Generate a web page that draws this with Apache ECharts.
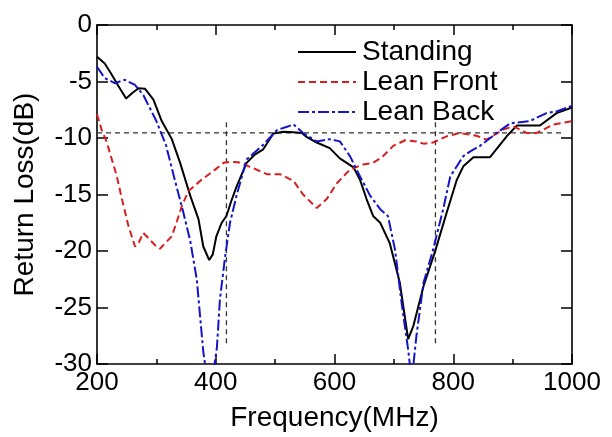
<!DOCTYPE html>
<html>
<head>
<meta charset="utf-8">
<script src="https://cdn.jsdelivr.net/npm/echarts@6/dist/echarts.min.js"></script>
<style>html,body{margin:0;padding:0;background:#fff}#c{width:612px;height:437px}</style>
</head>
<body>
<div id="c"></div>
<script>
// Standing (black solid)
const standingF = [200,213,225,236,249,260,270,281,295,309,326,340,357,371,379,389,395,401,410,418,426,435,452,465,480,497,514,530,545,553,570,592,609,632,643,654,665,677,693,710,724,733,750,769,789,806,817,834,862,890,907,946,974,1000];
const standingDB = [-2.8,-3.4,-4.4,-5.4,-6.5,-6.0,-5.6,-5.65,-6.6,-8.5,-10.1,-12.2,-15.1,-17.2,-19.6,-20.8,-20.3,-18.7,-17.5,-16.9,-15.6,-14.3,-12.2,-11.5,-11.0,-9.6,-9.45,-9.5,-9.55,-9.9,-10.4,-10.9,-11.8,-12.6,-13.7,-15.4,-16.9,-17.5,-19.3,-22.8,-27.8,-26.6,-23.1,-20.1,-16.6,-13.7,-12.5,-11.7,-11.7,-9.85,-8.9,-8.9,-7.8,-7.3];
// Lean Front (red dashed)
const frontF = [200,208,216,225,233,242,253,264,270,278,289,300,306,315,326,335,343,354,376,399,413,425,438,460,486,508,531,547,570,587,604,626,648,665,680,699,719,738,750,766,789,811,839,856,884,901,924,940,969,1000];
const frontDB = [-7.9,-9.3,-10.3,-11.9,-13.3,-15.4,-17.8,-19.6,-19.3,-18.4,-19.0,-19.6,-19.8,-19.3,-18.7,-17.3,-16.0,-14.7,-13.7,-12.8,-12.2,-12.1,-12.15,-12.6,-13.2,-13.2,-13.8,-15.0,-16.2,-15.4,-14.0,-12.8,-12.35,-12.2,-11.7,-10.7,-10.2,-10.3,-10.5,-10.4,-9.85,-9.56,-9.8,-10.15,-9.26,-8.97,-9.56,-9.56,-8.8,-8.5];
// Lean Back (blue dash-dot)
const backF = [200,213,230,247,264,278,289,300,316,331,345,357,368,379,390,402,407,416,424,435,452,480,503,520,531,547,570,592,609,626,643,660,677,690,702,713,724,730,738,750,766,783,795,806,817,828,845,873,896,929,957,974,1000];
const backDB = [-3.7,-4.7,-5.15,-4.85,-5.3,-6.2,-7.35,-8.5,-10.6,-13.7,-16.5,-19.1,-22.5,-28.9,-33,-28.5,-24.3,-20.4,-17.5,-15.1,-11.9,-10.6,-9.3,-9.0,-8.8,-9.56,-10.3,-10.1,-10.3,-11.6,-13.4,-15.1,-16.3,-16.9,-19.9,-24.6,-28.7,-31.5,-27.5,-22.8,-19.9,-16.3,-13.4,-12.5,-11.6,-11.2,-10.7,-9.56,-8.7,-8.5,-7.8,-7.65,-7.15];
// Reference lines (-10 dB bandwidth markers)
const refH = [[200,-9.54],[985,-9.54]];
const refV1 = [[418,-8.6],[418,-28.5]];
const refV2 = [[770,-8.6],[770,-28.5]];
const xTicks = [200,400,600,800,1000];
const yTicks = [0,-5,-10,-15,-20,-25,-30];

const FONT = 'Liberation Sans, Arial, sans-serif';
const zip = (f, v) => f.map((x, i) => [x, v[i]]);
const chart = echarts.init(document.getElementById('c'), null, {renderer: 'canvas'});
const refStyle = {color: '#333', width: 1.3, type: [5, 4]};
const axisCommon = {
  axisLine: {show: true, onZero: false, lineStyle: {color: '#000', width: 1.6}},
  splitLine: {show: false}
};
chart.setOption({
  animation: false,
  backgroundColor: '#fff',
  textStyle: {fontFamily: FONT},
  grid: {left: 97, right: 40, top: 25, bottom: 72},
  legend: {
    data: ['Standing', 'Lean Front', 'Lean Back'],
    orient: 'vertical', left: 292, top: 33, itemWidth: 58, itemHeight: 14, itemGap: 2,
    itemStyle: {opacity: 0},
    textStyle: {fontSize: 28, color: '#000', fontFamily: FONT, padding: [0, 0, 0, 1]}
  },
  xAxis: [
    Object.assign({}, axisCommon, {
      type: 'value', min: xTicks[0], max: xTicks[xTicks.length - 1], interval: 200,
      axisTick: {show: true, inside: true, length: 10, lineStyle: {color: '#000', width: 1.5}},
      minorTick: {show: true, splitNumber: 2, length: 5, lineStyle: {color: '#000', width: 1.5}},
      axisLabel: {fontSize: 26, color: '#000', margin: 6, fontFamily: FONT, formatter: v => String(v)},
      name: 'Frequency(MHz)', nameLocation: 'middle', nameGap: 40,
      nameTextStyle: {fontSize: 28, color: '#000', fontFamily: FONT}
    }),
    Object.assign({}, axisCommon, {
      type: 'value', position: 'top', min: 200, max: 1000, interval: 200,
      axisTick: {show: true, inside: true, length: 10, lineStyle: {color: '#000', width: 1.5}},
      minorTick: {show: true, splitNumber: 2, length: 5, lineStyle: {color: '#000', width: 1.5}},
      axisLabel: {show: false}
    })
  ],
  yAxis: [
    Object.assign({}, axisCommon, {
      type: 'value', min: -30, max: 0, interval: 5,
      axisTick: {show: true, inside: true, length: 11, lineStyle: {color: '#000', width: 1.5}},
      axisLabel: {fontSize: 26, color: '#000', margin: 5, fontFamily: FONT, formatter: v => String(v)},
      name: 'Return Loss(dB)', nameLocation: 'middle', nameGap: 58,
      nameTextStyle: {fontSize: 28, color: '#000', fontFamily: FONT}
    }),
    Object.assign({}, axisCommon, {
      type: 'value', position: 'right', min: -30, max: 0, interval: 5,
      axisTick: {show: true, inside: true, length: 11, lineStyle: {color: '#000', width: 1.5}},
      axisLabel: {show: false}
    })
  ],
  series: [
    {name: 'ref1', type: 'line', data: refH, showSymbol: false, silent: true, lineStyle: refStyle, clip: true},
    {name: 'ref2', type: 'line', data: refV1, showSymbol: false, silent: true, lineStyle: refStyle, clip: true},
    {name: 'ref3', type: 'line', data: refV2, showSymbol: false, silent: true, lineStyle: refStyle, clip: true},
    {name: 'Standing', type: 'line', data: zip(standingF, standingDB), showSymbol: false, symbol: 'none', clip: true,
      lineStyle: {color: '#000', width: 2}, itemStyle: {color: '#000'}},
    {name: 'Lean Front', type: 'line', data: zip(frontF, frontDB), showSymbol: false, symbol: 'none', clip: true,
      lineStyle: {color: '#d81e1e', width: 2, type: [7, 4]}, itemStyle: {color: '#d81e1e'}},
    {name: 'Lean Back', type: 'line', data: zip(backF, backDB), showSymbol: false, symbol: 'none', clip: true,
      lineStyle: {color: '#1414c8', width: 2, type: [11, 3, 3, 3]}, itemStyle: {color: '#1414c8'}}
  ]
});
</script>
</body>
</html>
